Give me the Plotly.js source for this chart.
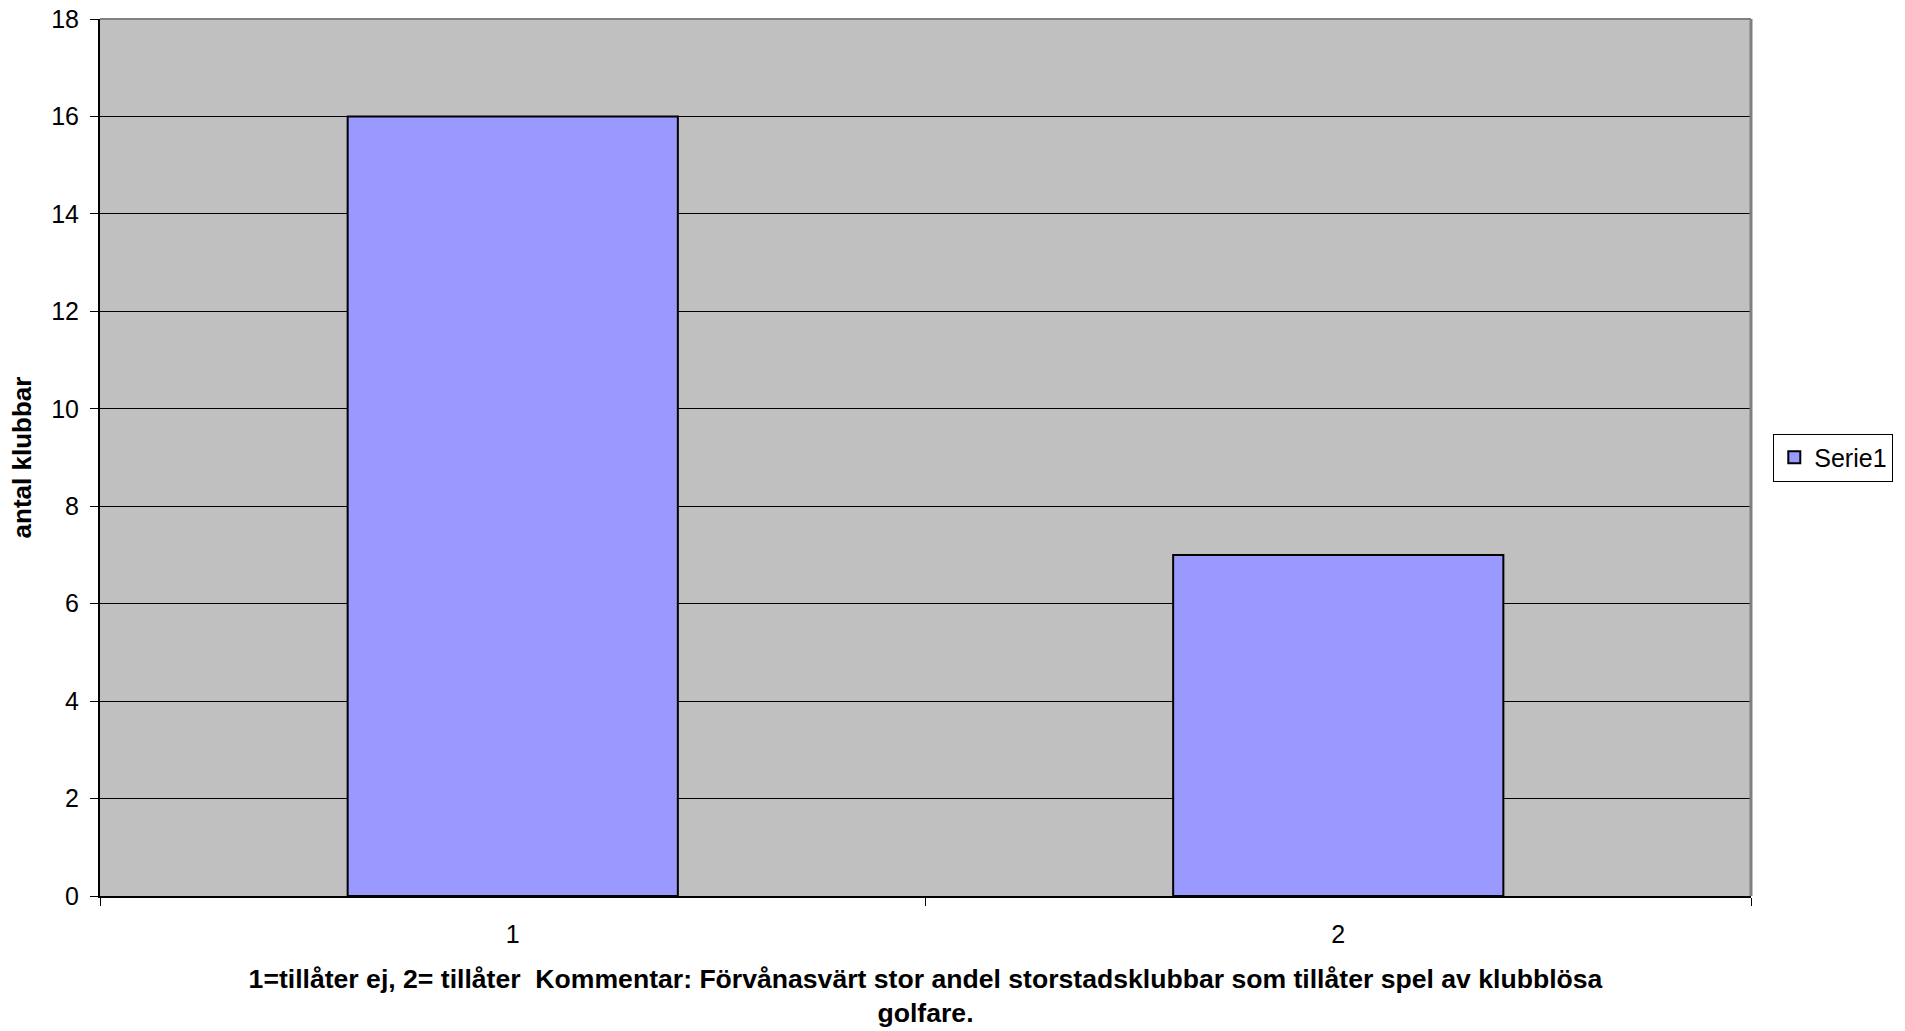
<!DOCTYPE html>
<html>
<head>
<meta charset="utf-8">
<script src="https://cdn.plot.ly/plotly-3.0.1.min.js"></script>
<style>
html,body{margin:0;padding:0;background:#fff;}
#chart{width:1905px;height:1031px;}
</style>
</head>
<body>
<div id="chart"></div>
<script>
const categories = ["1", "2"];
const serie1 = [16, 7];
const seriesName = "Serie1";
const yTickVals = [0, 2, 4, 6, 8, 10, 12, 14, 16, 18];
const yTitle = "antal klubbar";
const xTitle = "1=tillåter ej, 2= tillåter  Kommentar: Förvånasvärt stor andel storstadsklubbar som tillåter spel av klubblösa<br>golfare.";

const FONT = "Liberation Sans, Arial, sans-serif";

const trace = {
  type: "bar",
  x: categories,
  y: serie1,
  name: seriesName,
  marker: {color: "#9999FF", line: {color: "#000000", width: 2}},
  showlegend: true
};

const layout = {
  width: 1905,
  height: 1031,
  paper_bgcolor: "#ffffff",
  plot_bgcolor: "#C0C0C0",
  margin: {l: 100, r: 154, t: 19, b: 135, autoexpand: false},
  bargap: 0.6,
  font: {family: FONT, color: "#000000", size: 25},
  xaxis: {
    type: "category",
    tickson: "boundaries",
    ticks: "outside",
    ticklen: 8,
    tickcolor: "#000000",
    tickwidth: 1,
    showline: true,
    linecolor: "#000000",
    linewidth: 2,
    showgrid: false,
    zeroline: false,
    ticklabelstandoff: 15,
    tickfont: {family: FONT, size: 25},
    title: {text: xTitle, font: {family: FONT, size: 26.6, weight: "bold"}, standoff: 22},
    automargin: false
  },
  yaxis: {
    range: [0, 18],
    tickvals: yTickVals,
    ticks: "outside",
    ticklen: 8,
    tickcolor: "#000000",
    tickwidth: 1,
    showline: true,
    linecolor: "#000000",
    linewidth: 2,
    showgrid: true,
    gridcolor: "#000000",
    gridwidth: 1,
    zeroline: false,
    ticklabelstandoff: 6,
    tickfont: {family: FONT, size: 25},
    title: {text: yTitle, font: {family: FONT, size: 26, weight: "bold"}, standoff: 12},
    automargin: false
  },
  legend: {
    x: 1.0135,
    y: 0.5,
    xanchor: "left",
    yanchor: "middle",
    bgcolor: "#ffffff",
    bordercolor: "#000000",
    borderwidth: 1,
    font: {family: FONT, size: 25},
    itemwidth: 30,
    tracegroupgap: 0
  },
  shapes: [
    {type: "line", xref: "paper", yref: "paper", x0: 0, x1: 1, y0: 1, y1: 1, line: {color: "#808080", width: 2}},
    {type: "line", xref: "paper", yref: "paper", x0: 1, x1: 1, y0: 0, y1: 1, line: {color: "#808080", width: 3}}
  ]
};

Plotly.newPlot("chart", [trace], layout, {displayModeBar: false, staticPlot: true});
</script>
</body>
</html>
